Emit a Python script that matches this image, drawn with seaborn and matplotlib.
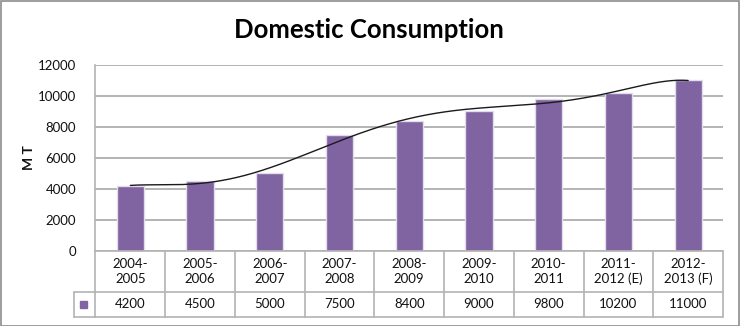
import numpy as np
import pandas as pd
import matplotlib
matplotlib.use("Agg")
import matplotlib.pyplot as plt
from matplotlib.patches import Rectangle
from matplotlib.lines import Line2D
import seaborn as sns

# Data
seasons = ["2004-\n2005", "2005-\n2006", "2006-\n2007", "2007-\n2008", "2008-\n2009",
           "2009-\n2010", "2010-\n2011", "2011-\n2012 (E)", "2012-\n2013 (F)"]
consumption = [4200, 4500, 5000, 7500, 8400, 9000, 9800, 10200, 11000]
y_ticks = [0, 2000, 4000, 6000, 8000, 10000, 12000]

title = "Domestic Consumption"
y_label = "M T"

sns.set_theme(style="white")
plt.rcParams["font.family"] = ["Lato", "DejaVu Sans"]

BAR = "#8064A2"
GRID = "#b3b3b3"
TXT = "#111111"
W, H = 740, 326

fig = plt.figure(figsize=(W / 100, H / 100), dpi=100)
fig.patch.set_facecolor("white")

# plot area in pixels
left, right, top, bottom = 95.5, 723.0, 64.7, 251.0
ax = fig.add_axes([left / W, (H - bottom) / H, (right - left) / W, (bottom - top) / H])

df = pd.DataFrame({"season": seasons, "value": consumption})
sns.barplot(data=df, x="season", y="value", color=BAR, width=0.39, ax=ax,
            edgecolor="#e3dcec", linewidth=1.0, saturation=1)

# polynomial trend line (order 6) through the series
xs = np.arange(len(consumption))
coef = np.polyfit(xs, consumption, 6)
xf = np.linspace(0, len(consumption) - 1, 300)
ax.plot(xf, np.polyval(coef, xf), color="#1a1a1a", lw=1.0, zorder=5)

ax.set_ylim(0, 12000)
ax.set_xlim(-0.5, len(seasons) - 0.5)
ax.set_yticks(y_ticks)
ax.set_yticklabels([str(t) for t in y_ticks], fontsize=9.5, color=TXT)
ax.tick_params(axis="y", length=0, pad=14)
ax.set_xticks([])
ax.set_xlabel("")
ax.set_ylabel("")
ax.grid(axis="y", color=GRID, lw=1.4)
ax.set_axisbelow(True)
for s in ["top", "right", "bottom"]:
    ax.spines[s].set_visible(False)
ax.spines["left"].set_color(GRID)
ax.spines["left"].set_linewidth(1.2)

fig.text(29 / W, 1 - 158 / H, y_label, rotation=90, ha="center", va="center",
         fontsize=10, fontweight="bold", color=TXT)
fig.text(369 / W, 1 - 30 / H, title, ha="center", va="center",
         fontsize=18.5, fontweight="bold", color="#000000")

# data table under the axis
tr = ax.get_xaxis_transform()
ax_h = bottom - top
row1 = -(292 - bottom) / ax_h
row2 = -(316.7 - bottom) / ax_h
n = len(seasons)
tkw = dict(color=GRID, lw=1.2, transform=tr, clip_on=False)
for yy in [0, row1, row2]:
    ax.add_line(Line2D([-0.5, n - 0.5], [yy, yy], **tkw))
for k in range(n + 1):
    ax.add_line(Line2D([k - 0.5, k - 0.5], [0, row2], **tkw))
for i, (lab, v) in enumerate(zip(seasons, consumption)):
    ax.text(i, row1 / 2, lab, transform=tr, ha="center", va="center",
            fontsize=9.5, color=TXT, linespacing=1.3)
    ax.text(i, (row1 + row2) / 2, str(v), transform=tr, ha="center", va="center",
            fontsize=9.5, color=TXT)

# legend key cell
lk = 74.0
fig.add_artist(Line2D([lk / W, left / W], [1 - 292 / H, 1 - 292 / H], color=GRID, lw=1.2))
fig.add_artist(Line2D([lk / W, left / W], [1 - 316.7 / H, 1 - 316.7 / H], color=GRID, lw=1.2))
fig.add_artist(Line2D([lk / W, lk / W], [1 - 292 / H, 1 - 316.7 / H], color=GRID, lw=1.2))
fig.add_artist(Rectangle(((83.5 - 3.5) / W, 1 - (304.5 + 3.5) / H), 7 / W, 7 / H,
                         color=BAR, transform=fig.transFigure))

# chart border
fig.add_artist(Rectangle((0.5 / W, 0.5 / H), (W - 1.5) / W, (H - 1.5) / H, fill=False,
                         edgecolor="#8c8c8c", lw=1.2, transform=fig.transFigure))

fig.savefig("out.png", dpi=100)
